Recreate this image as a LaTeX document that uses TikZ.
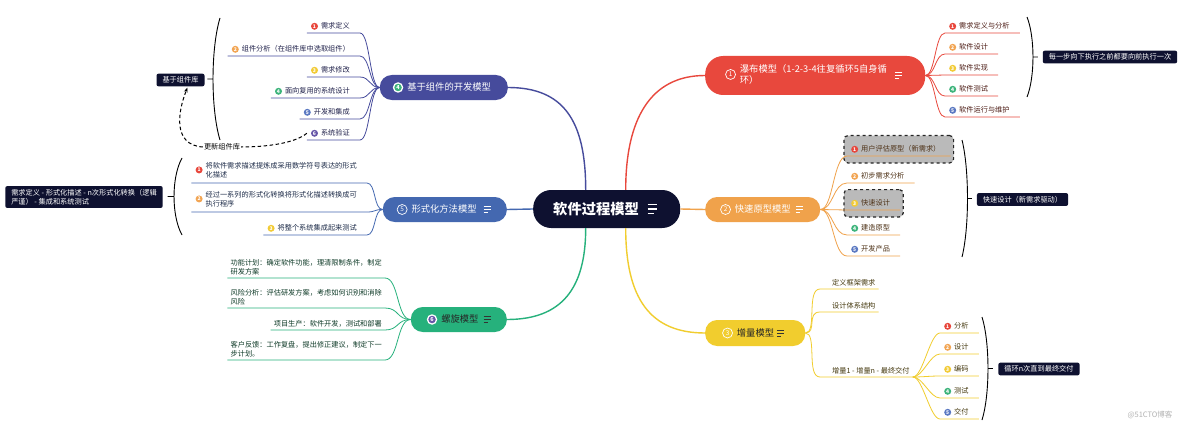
\documentclass[tikz,border=0pt]{standalone}
\usepackage{fontspec}
\setmainfont{Noto Sans CJK SC}
\usepackage{tikz}
\usetikzlibrary{arrows.meta,positioning,calc,fit,backgrounds}

\definecolor{navy}{HTML}{0E1130}
\definecolor{wfred}{HTML}{E8483D}
\definecolor{rporange}{HTML}{F0A24B}
\definecolor{incyel}{HTML}{F1CD2E}
\definecolor{cbind}{HTML}{464B9C}
\definecolor{fmblue}{HTML}{4468B0}
\definecolor{spgreen}{HTML}{26B17C}
\definecolor{d1}{HTML}{E8473C}
\definecolor{d2}{HTML}{F2A553}
\definecolor{d3}{HTML}{F2CB35}
\definecolor{d4}{HTML}{3DB47B}
\definecolor{d5}{HTML}{5B79C2}
\definecolor{d6}{HTML}{6757A8}
\definecolor{wftxt}{HTML}{4D1D16}
\definecolor{rptxt}{HTML}{4D3116}
\definecolor{inctxt}{HTML}{463A10}
\definecolor{cbtxt}{HTML}{23244D}
\definecolor{fmtxt}{HTML}{1F2D4A}
\definecolor{sptxt}{HTML}{0F3B28}

% small numbered dots and hub icons
\newcommand\ndot[1]{\tikz[baseline=-2.6pt]\node[anchor=center,circle,fill=d#1,inner sep=0pt,minimum size=7pt,text=white,font=\fontsize{5}{5}\selectfont\bfseries]{#1};}
\newcommand\lfi[2]{\hspace*{4pt}\ndot{#1}\hspace{3pt}#2\hspace*{10pt}}
\newcommand\hubnum[1]{\tikz[baseline=-3.3pt]\node[anchor=center,circle,draw=white,line width=0.7pt,text=white,minimum size=10pt,inner sep=0pt,font=\fontsize{6.5}{6.5}\selectfont]{#1};}
\newcommand\hubnumf[2]{\tikz[baseline=-3.3pt]{\node[anchor=center,circle,fill=white,minimum size=10.5pt,inner sep=0pt]{};\node[anchor=center,circle,fill=#2,minimum size=7.5pt,inner sep=0pt,text=white,font=\fontsize{5.5}{5.5}\selectfont\bfseries]{#1};}}
\newcommand\menuic[4]{\begin{scope}[shift={#1},scale=#3]
  \draw[#2,line width=#4] (-3.5,-3) -- (3.5,-3) (-3.5,0) -- (3.5,0) (-3.5,3) -- (1,3);
\end{scope}}
\newcommand\bracepar[4]{%
  \draw[brc] (#1,#3) .. controls ({#1+1.33*(#2)},{#3+0.25*(#4-#3)}) and ({#1+1.33*(#2)},{#4-0.25*(#4-#3)}) .. (#1,#4)
    ({#1+(#2)},{(#3+#4)/2}) -- ++({0.8*(#2)},0);}

\begin{document}
\begin{tikzpicture}[x=1pt, y=-1pt,
    ctrbox/.style={fill=navy, text=white, rounded corners=18pt, minimum height=38pt, inner xsep=20pt, text width=107pt, align=left, font=\fontsize{14.3}{16}\selectfont\bfseries},
    hub/.style={rounded corners=12pt, minimum height=25pt, inner ysep=0pt, align=left, text=white, font=\fontsize{9.3}{11.5}\selectfont},
    leaf/.style={inner xsep=0pt, inner ysep=3pt, align=left, font=\fontsize{7.2}{9}\selectfont},
    bare/.style={leaf, inner xsep=3pt},
    note/.style={fill=navy, text=white, rounded corners=2pt, inner xsep=6pt, inner ysep=3pt, align=left, font=\fontsize{7.2}{9}\selectfont},
    hlbox/.style={draw=black!85, fill=black!27, dashed, line width=1.2pt, rounded corners=4pt, inner xsep=3pt, inner ysep=7pt},
    trunk/.style={line width=1.4pt},
    twig/.style={line width=0.8pt},
    brc/.style={line width=0.9pt, black},
    dsh/.style={dashed, dash pattern=on 3.5pt off 2.5pt, line width=1pt}
  ]
  \useasboundingbox (0,0) rectangle (1184,428);

  % centre and hubs
  \node[ctrbox, anchor=west] (ctr) at (533,209) {软件过程模型};
  \node[hub, fill=wfred, anchor=west, minimum height=39pt, rounded corners=18pt, inner xsep=20pt, text width=180pt] (wf) at (705,75.5)
    {\hubnum{1}\hspace{4pt}\begin{tabular}{@{}l@{}}瀑布模型（1-2-3-4往复循环5自身循\\环）\end{tabular}};
  \node[hub, fill=rporange, anchor=west, inner xsep=15pt, text width=85pt] (rp) at (705,209.5) {\hubnum{2}\hspace{4pt}快速原型模型};
  \node[hub, fill=incyel, text=black!85, anchor=west, minimum height=26pt, inner xsep=17pt, text width=66pt] (inc) at (705,333) {\hubnum{3}\hspace{4pt}增量模型};
  \node[hub, fill=cbind, anchor=east, inner xsep=13pt, text width=102pt] (cb) at (508,87.5) {\hubnumf{4}{d4}\hspace{4pt}基于组件的开发模型};
  \node[hub, fill=fmblue, anchor=east, inner xsep=14pt, text width=96pt] (fm) at (507,209.5) {\hubnum{5}\hspace{4pt}形式化方法模型};
  \node[hub, fill=spgreen, text=black!85, anchor=east, inner xsep=16pt, text width=64pt] (sp) at (507,319.5) {\hubnumf{6}{d6}\hspace{4pt}螺旋模型};

  \menuic{($(ctr.east)+(-28,0)$)}{white}{1.4}{1.3pt}
  \menuic{($(wf.east)+(-27,0)$)}{white}{1}{1pt}
  \menuic{($(rp.east)+(-21,0)$)}{white}{1}{1pt}
  \menuic{($(inc.east)+(-25,0)$)}{black!80}{1}{1pt}
  \menuic{($(fm.east)+(-20,0)$)}{white}{1}{1pt}
  \menuic{($(sp.east)+(-20,0)$)}{black!80}{1}{1pt}

  \draw[trunk, fmblue] (ctr.west) -- (fm.east);
  \draw[trunk, rporange] (ctr.east) -- (rp.west);
  \draw[trunk, cbind] ($(ctr.north)+(-21,0)$) .. controls +(0,-70) and +(55,0) .. (cb.east);
  \draw[trunk, wfred] ($(ctr.north)+(19,0)$) .. controls +(0,-70) and +(-55,0) .. (wf.west);
  \draw[trunk, spgreen] ($(ctr.south)+(-21,0)$) .. controls +(0,60) and +(55,0) .. (sp.east);
  \draw[trunk, incyel] ($(ctr.south)+(19,0)$) .. controls +(0,70) and +(-55,0) .. (inc.west);

  % waterfall
  \begin{scope}[text=wftxt]
    \node[leaf, anchor=south west] (w1) at (945,33) {\lfi{1}{需求定义与分析}};
    \node[leaf, anchor=south west] (w2) at (945,54) {\lfi{2}{软件设计}};
    \node[leaf, anchor=south west] (w3) at (945,75) {\lfi{3}{软件实现}};
    \node[leaf, anchor=south west] (w4) at (945,96) {\lfi{4}{软件测试}};
    \node[leaf, anchor=south west] (w5) at (945,117) {\lfi{5}{软件运行与维护}};
  \end{scope}
  \foreach \i in {1,...,5}
    \draw[twig, wfred] (wf.east) .. controls +(10,0) and +(-10,0) .. (w\i.south west) -- (w\i.south east);
  \bracepar{1027}{6}{17}{97}
  \node[note] (wfnote) at (1110,57) {每一步向下执行之前都要向前执行一次};

  % rapid prototype
  \begin{scope}[text=rptxt]
    \node[leaf, anchor=south west] (r1) at (847,156) {\lfi{1}{用户评估原型（新需求）}};
    \node[leaf, anchor=south west] (r2) at (847,183) {\lfi{2}{初步需求分析}};
    \node[leaf, anchor=south west] (r3) at (847,210) {\lfi{3}{快速设计}};
    \node[leaf, anchor=south west] (r4) at (847,235) {\lfi{4}{建造原型}};
    \node[leaf, anchor=south west] (r5) at (847,256) {\lfi{5}{开发产品}};
  \end{scope}
  \foreach \i in {1,...,5}
    \draw[twig, rporange] (rp.east) .. controls +(13,0) and +(-14,0) .. (r\i.south west) -- (r\i.south east);
  \bracepar{962}{5.5}{140}{257}
  \node[note] (rpnote) at (1022.5,199.5) {快速设计（新需求驱动）};

  % incremental
  \begin{scope}[text=inctxt]
    \node[bare, anchor=south west] (i1) at (820,289) {\hspace*{9pt}定义框架需求};
    \node[bare, anchor=south west] (i2) at (820,312) {\hspace*{9pt}设计体系结构};
    \node[bare, anchor=south west] (i3) at (820,377) {\hspace*{9pt}增量1 - 增量n - 最终交付};
    \node[leaf, anchor=south west] (s1) at (940,333) {\lfi{1}{分析}};
    \node[leaf, anchor=south west] (s2) at (940,354) {\lfi{2}{设计}};
    \node[leaf, anchor=south west] (s3) at (940,376) {\lfi{3}{编码}};
    \node[leaf, anchor=south west] (s4) at (940,398) {\lfi{4}{测试}};
    \node[leaf, anchor=south west] (s5) at (940,419) {\lfi{5}{交付}};
  \end{scope}
  \foreach \i in {1,2,3}
    \draw[twig, incyel] (inc.east) .. controls +(12,0) and +(-14,0) .. (i\i.south west) -- (i\i.south east);
  \foreach \i in {1,...,5}
    \draw[twig, incyel] (i3.south east) .. controls +(10,0) and +(-10,0) .. (s\i.south west) -- (s\i.south east);
  \bracepar{982}{6}{317}{420}
  \node[note] (incnote) at (1039,369) {循环n次直到最终交付};

  % component based
  \begin{scope}[text=cbtxt]
    \node[leaf, anchor=south east] (c1) at (360,33) {\lfi{1}{需求定义}};
    \node[leaf, anchor=south east] (c2) at (360,56) {\lfi{2}{组件分析（在组件库中选取组件）}};
    \node[leaf, anchor=south east] (c3) at (360,77) {\lfi{3}{需求修改}};
    \node[leaf, anchor=south east] (c4) at (360,98) {\lfi{4}{面向复用的系统设计}};
    \node[leaf, anchor=south east] (c5) at (360,119) {\lfi{5}{开发和集成}};
    \node[leaf, anchor=south east] (c6) at (360,140) {\lfi{6}{系统验证}};
  \end{scope}
  \foreach \i in {1,...,6}
    \draw[twig, cbind] (cb.west) .. controls +(-10,0) and +(10,0) .. (c\i.south east) -- (c\i.south west);
  \bracepar{220}{-7}{18}{140}
  \node[note] (cbnote) at (180.5,80) {基于组件库};
  \node[leaf, inner xsep=1pt, text=black] (upd) at (222,147) {更新组件库};
  \draw[dsh] (c6.west) .. controls +(-12,10) and +(25,0) .. (upd.east);
  \draw[dsh, -{Stealth[length=5pt]}] (upd.west) .. controls +(-30,-2) and +(-10,25) .. ($(cbnote.south)+(7,1)$);

  % formal methods
  \begin{scope}[text=fmtxt]
    \node[leaf, anchor=south east] (f1) at (367,183) {\lfi{1}{\begin{tabular}{@{}l@{}}将软件需求描述提炼成采用数学符号表达的形式\\化描述\end{tabular}}};
    \node[leaf, anchor=south east] (f2) at (367,212) {\lfi{2}{\begin{tabular}{@{}l@{}}经过一系列的形式化转换将形式化描述转换成可\\执行程序\end{tabular}}};
    \node[leaf, anchor=south east] (f3) at (367,235) {\lfi{3}{将整个系统集成起来测试}};
  \end{scope}
  \foreach \i in {1,2,3}
    \draw[twig, fmblue] (fm.west) .. controls +(-9,0) and +(9,0) .. (f\i.south east) -- (f\i.south west);
  \bracepar{182}{-8}{158}{235}
  \node[note] (fmnote) at (84,197) {需求定义 - 形式化描述 - n次形式化转换（逻辑\\严谨） - 集成和系统测试};

  % spiral
  \begin{scope}[text=sptxt]
    \node[bare, anchor=south east] (p1) at (385,278) {功能计划：确定软件功能，理清限制条件，制定\\研发方案};
    \node[bare, anchor=south east] (p2) at (385,308) {风险分析：评估研发方案，考虑如何识别和消除\\风险};
    \node[bare, anchor=south east] (p3) at (385,330) {项目生产：软件开发，测试和部署};
    \node[bare, anchor=south east] (p4) at (385,360) {客户反馈：工作复盘，提出修正建议，制定下一\\步计划。};
  \end{scope}
  \foreach \i in {1,...,4}
    \draw[twig, spgreen] (sp.west) .. controls +(-14,0) and +(14,0) .. (p\i.south east) -- (p\i.south west);

  \node[text=black!30, font=\fontsize{7.5}{9}\selectfont] (wm) at (1150,415) {@51CTO博客};

  \begin{scope}[on background layer]
    \fill[white] (0,0) rectangle (1184,428);
    \node[hlbox, fit=(r1)] (hl1) {};
    \node[hlbox, fit=(r3)] (hl3) {};
  \end{scope}
\end{tikzpicture}
\end{document}
